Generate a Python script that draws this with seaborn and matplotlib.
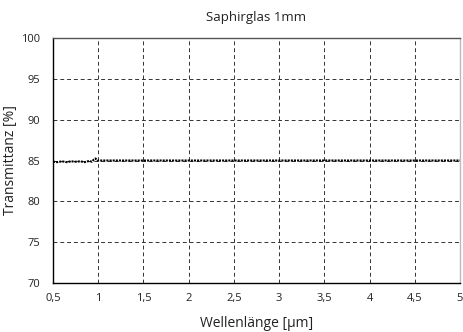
import matplotlib
matplotlib.use("Agg")
import matplotlib.pyplot as plt
import seaborn as sns
import pandas as pd

# Transmission curve
wavelength = [0.50, 0.55, 0.60, 0.65, 0.70, 0.75, 0.80, 0.85, 0.90, 0.93, 0.95, 0.97, 0.99,
              1.02, 1.10, 1.50, 2.00, 2.50, 3.00, 3.50, 4.00, 4.50, 5.00]
transmission = [84.85, 84.8, 84.9, 84.8, 84.9, 84.85, 84.9, 84.8, 84.95, 84.85, 85.1, 85.25, 85.0,
                85.0, 85.0, 85.0, 85.0, 85.0, 85.0, 85.0, 85.0, 85.0, 85.0]

x_ticks = [0.5, 1, 1.5, 2, 2.5, 3, 3.5, 4, 4.5, 5]
x_labels = ["0,5", "1", "1,5", "2", "2,5", "3", "3,5", "4", "4,5", "5"]
y_ticks = [70, 75, 80, 85, 90, 95, 100]

df = pd.DataFrame({"wl": wavelength, "T": transmission})

sns.set_theme(style="white")
plt.rcParams['font.family'] = ['Open Sans', 'DejaVu Sans']

fig, ax = plt.subplots(figsize=(4.63, 3.32), dpi=100)
fig.subplots_adjust(left=0.1145, right=0.9935, top=0.8855, bottom=0.1476)

sns.lineplot(data=df, x="wl", y="T", ax=ax, color="black", linestyle=(0, (1, 0.5)), linewidth=1.5)

ax.set_xlim(0.5, 5)
ax.set_ylim(70, 100)
ax.set_xticks(x_ticks)
ax.set_xticklabels(x_labels)
ax.set_yticks(y_ticks)
ax.tick_params(axis="x", length=0, labelsize=8, colors="#222222", pad=7)
ax.tick_params(axis="y", length=0, labelsize=8, colors="#222222", pad=9)

ax.grid(True, color="#333333", linestyle=(0, (4, 3)), linewidth=0.7)
for side in ["left", "bottom"]:
    ax.spines[side].set_color("black")
    ax.spines[side].set_linewidth(1.0)
ax.spines["top"].set_color("#555555")
ax.spines["top"].set_linewidth(1.0)
ax.spines["right"].set_color("#bbbbbb")
ax.spines["right"].set_linewidth(1.0)

ax.set_title("Saphirglas 1mm", fontsize=9.5, color="#222222", pad=12)
ax.set_xlabel("Wellenlänge [µm]", fontsize=10, color="#222222", labelpad=9)
ax.set_ylabel("Transmittanz [%]", fontsize=10, color="#222222")
ax.yaxis.set_label_coords(-0.085, 0.5)

fig.savefig("out.png", dpi=100)
